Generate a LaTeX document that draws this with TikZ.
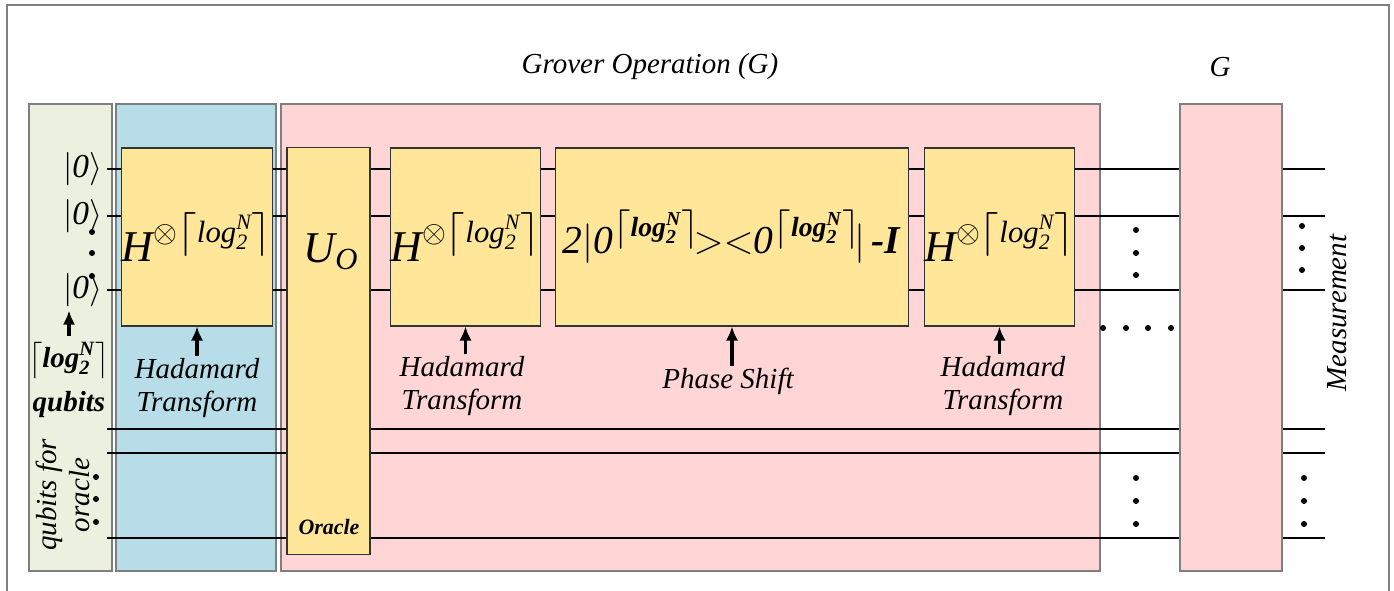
\RequirePackage{fix-cm}
\documentclass[tikz,border=0pt]{standalone}
\usepackage{amsmath}
\usepackage{fontspec}
\setmainfont{Liberation Serif}
\usetikzlibrary{positioning,arrows.meta}

\definecolor{qgreen}{HTML}{EBF1DE}
\definecolor{qblue}{HTML}{B7DEE8}
\definecolor{qpink}{HTML}{FFD5D5}
\definecolor{qgate}{HTML}{FFE699}
\definecolor{qedge}{HTML}{7F7F7F}

% ceiling of log_2 N, plain and bold
\newcommand{\lgN}{\left\lceil\textit{log}^{\textit{N}}_{\textit{2}}\right\rceil}
\newcommand{\lgNb}{\left\lceil\textbf{\textit{log}}^{\textbf{\textit{N}}}_{\textbf{\textit{2}}}\right\rceil}
\newcommand{\bigfs}{\fontsize{25}{25}\selectfont}
\newcommand{\txtfs}{\fontsize{16.5}{18.7}\selectfont}

\tikzset{
  panel/.style={draw=qedge, line width=0.6pt},
  gate/.style={draw=black!80, fill=qgate, line width=0.6pt, inner sep=0pt, font=\bigfs},
  wire/.style={line width=1.2pt},
  arr/.style={line width=1.8pt, -{Latex[length=8pt,width=7pt]}},
  lbl/.style={font=\txtfs\itshape, align=center, inner sep=1pt},
}

\begin{document}
\begin{tikzpicture}[x=0.02cm, y=-0.02cm]
  \useasboundingbox (0,0) rectangle (1394,591);
  \draw[qedge, line width=0.6pt] (7,591) -- (7,5) -- (1389,5) -- (1389,591); % frame

  % Panels
  \path[panel, fill=qgreen] (29,104) rectangle (112,571);
  \path[panel, fill=qblue] (116,104) rectangle (276,571);
  \path[panel, fill=qpink] (281,104) rectangle (1100,571);

  \node[lbl] (title) at (650,67) {Grover Operation (G)};
  \node[lbl] (gtitle) at (1220,67) {G};

  % Input states
  \foreach \Y/\N in {169/q1, 216/q2, 290/q3} {
    \node[anchor=east, inner sep=2pt, font=\fontsize{19}{19}\selectfont] (\N) at (106,\Y) {$|\textit{0}\rangle$};
  }

  % Wires (0..n and oracle qubits)
  \foreach \Y [count=\i] in {169,216,290,429,453,538} {
    \coordinate (w\i s) at (107,\Y);
    \coordinate (w\i e) at (1325,\Y);
    \draw[wire] (w\i s) -- (w\i e);
  }

  % Second G block sits over the wires
  \path[panel, fill=qpink] (1180,104) rectangle (1282,571);

  % Gates
  \node[gate, minimum width=2.92cm, minimum height=3.56cm] (had1) at (197,237)
    {$\textit{H}^{\otimes\lgN}$};
  \node[gate, minimum width=1.66cm, minimum height=8.16cm] (oracle) at (328.5,351) {};
  \node[font=\bigfs] (uo) at (331,252) {$\textit{U}_{\textit{O}}$};
  \node[font=\fontsize{12.5}{12.5}\selectfont\bfseries\itshape] (otxt) at (329,527) {Oracle};
  \node[gate, minimum width=2.9cm, minimum height=3.56cm] (had2) at (465.5,237)
    {$\textit{H}^{\otimes\lgN}$};
  \node[gate, minimum width=7.08cm, minimum height=3.56cm, font=\fontsize{22.5}{22.5}\selectfont] (phase) at (732,237)
    {$\textit{2}|\textit{0}^{\lgNb}\!{>}{<}\textit{0}^{\lgNb}\!|\,\textbf{\textit{-I}}$};
  \node[gate, minimum width=2.9cm, minimum height=3.56cm] (had3) at (999.5,237)
    {$\textit{H}^{\otimes\lgN}$};

  % Labels under the gates
  \node[lbl] (ht1) at (197,388) {Hadamard\\Transform};
  \node[lbl] (ht2) at (462,386) {Hadamard\\Transform};
  \node[lbl] (ps) at (728,381) {Phase Shift};
  \node[lbl] (ht3) at (1003,386) {Hadamard\\Transform};
  \draw[arr] (ht1.north -| had1.south) -- (had1.south);
  \draw[arr] (ht2.north -| had2.south) -- (had2.south);
  \draw[arr] (ps.north -| phase.south) -- (phase.south);
  \draw[arr] (ht3.north -| had3.south) -- (had3.south);

  % Left side labels
  \node[font=\txtfs] (lgq) at (69,360) {$\lgNb$};
  \node[lbl, font=\txtfs\bfseries\itshape] (qb) at (69,405) {qubits};
  \draw[arr] (lgq.north) -- (lgq.north |- q3.south);
  \node[lbl, rotate=90] (qo) at (63,495) {qubits for\\oracle};
  \node[lbl, rotate=90] (meas) at (1337,313) {Measurement};

  % Dots
  \foreach \X/\Y in {92/232, 92/253, 92/276, 96/477, 96/499, 96/522,
      1136/230, 1136/253, 1136/275, 1136/478, 1136/501, 1136/524,
      1302/226, 1302/248, 1302/270, 1304/478, 1304/501, 1304/524,
      1103/328, 1126/328, 1148/328, 1171/328} {
    \fill (\X,\Y) circle (1.7pt);
  }
\end{tikzpicture}
\end{document}
